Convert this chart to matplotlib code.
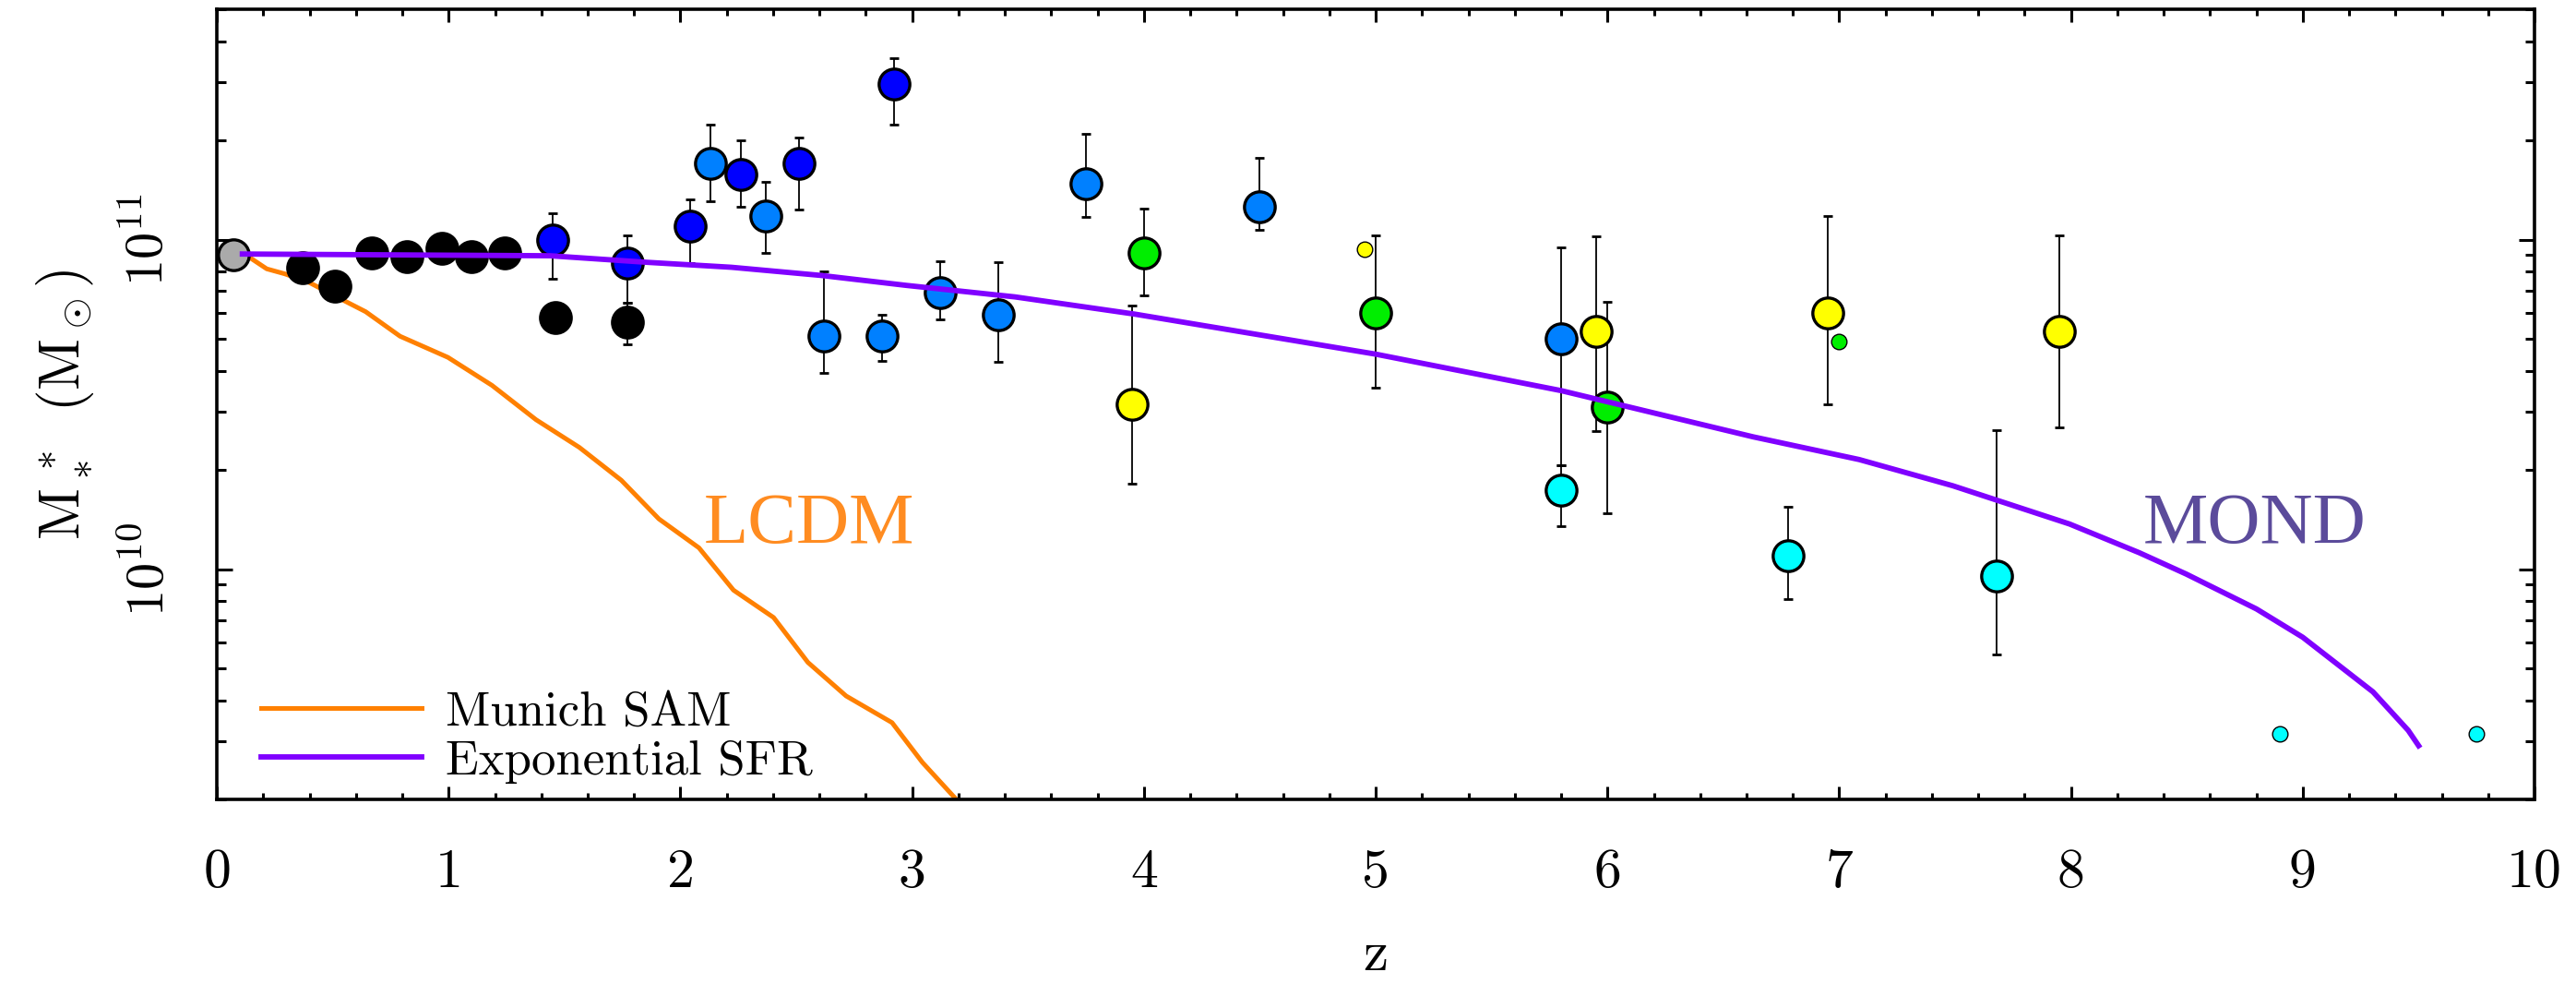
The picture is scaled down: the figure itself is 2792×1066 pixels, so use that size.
import numpy as np
import matplotlib
matplotlib.use("Agg")
import matplotlib.pyplot as plt

plt.rcParams['font.family'] = 'cmr10'
plt.rcParams['mathtext.fontset'] = 'cm'
plt.rcParams['axes.formatter.use_mathtext'] = True

# model curves
sam_z = [0.09, 0.126, 0.215, 0.293, 0.40, 0.517, 0.642, 0.79, 0.997, 1.187, 1.377, 1.564,
         1.745, 1.907, 2.08, 2.229, 2.402, 2.55, 2.715, 2.913, 3.044, 3.25]
sam_m = [9.0e10, 8.97e10, 8.15e10, 7.87e10, 7.4e10, 6.7e10, 6.04e10, 5.09e10, 4.39e10, 3.61e10,
         2.84e10, 2.34e10, 1.86e10, 1.42e10, 1.16e10, 8.63e9, 7.13e9, 5.21e9, 4.12e9, 3.42e9,
         2.59e9, 1.8e9]

sfr_z = [0.11, 1.438, 1.857, 2.22, 2.61, 2.975, 3.443, 3.96, 5.0, 5.8, 6.628, 7.086, 7.49,
         7.994, 8.296, 8.497, 8.80, 9.0, 9.303, 9.455, 9.5]
sfr_m = [9.04e10, 8.93e10, 8.53e10, 8.24e10, 7.78e10, 7.26e10, 6.70e10, 5.94e10, 4.49e10,
         3.48e10, 2.52e10, 2.15e10, 1.79e10, 1.37e10, 1.12e10, 9.66e9, 7.57e9, 6.21e9,
         4.24e9, 3.24e9, 2.91e9]

# observations: z, mass, lower and upper end of error bar (nan = none)
grey_z = [0.07]
grey_m = [9.0e10]

black_z = [0.37, 0.51, 0.67, 0.82, 0.97, 1.10, 1.24, 1.46, 1.77]
black_m = [8.2e10, 7.2e10, 9.1e10, 8.9e10, 9.4e10, 8.9e10, 9.1e10, 5.8e10, 5.6e10]
black_lo = [np.nan] * 8 + [4.8e10]
black_hi = [np.nan] * 8 + [6.45e10]

dblue_z = [1.45, 1.77, 2.04, 2.26, 2.51, 2.92]
dblue_m = [1.0e11, 8.5e10, 1.1e11, 1.58e11, 1.7e11, 2.97e11]
dblue_lo = [7.6e10, 6.45e10, 8.5e10, 1.26e11, 1.23e11, 2.24e11]
dblue_hi = [1.2e11, 1.03e11, 1.32e11, 2.0e11, 2.04e11, 3.56e11]

lblue_z = [2.13, 2.37, 2.62, 2.87, 3.12, 3.37, 3.75, 4.50, 5.80]
lblue_m = [1.7e11, 1.18e11, 5.1e10, 5.1e10, 6.9e10, 5.9e10, 1.48e11, 1.26e11, 5.0e10]
lblue_lo = [1.31e11, 9.1e10, 3.94e10, 4.29e10, 5.73e10, 4.26e10, 1.17e11, 1.07e11, 2.06e10]
lblue_hi = [2.24e11, 1.5e11, 8.0e10, 5.93e10, 8.57e10, 8.53e10, 2.09e11, 1.77e11, 9.46e10]

green_z = [4.0, 5.0, 6.0]
green_m = [9.1e10, 6.0e10, 3.1e10]
green_lo = [6.78e10, 3.55e10, 1.48e10]
green_hi = [1.24e11, 1.03e11, 6.47e10]

yellow_z = [3.95, 5.95, 6.95, 7.95]
yellow_m = [3.16e10, 5.25e10, 6.0e10, 5.27e10]
yellow_lo = [1.82e10, 2.63e10, 3.16e10, 2.69e10]
yellow_hi = [6.3e10, 1.02e11, 1.18e11, 1.03e11]

cyan_z = [5.80, 6.78, 7.68]
cyan_m = [1.74e10, 1.1e10, 9.5e9]
cyan_lo = [1.35e10, 8.1e9, 5.5e9]
cyan_hi = [2.06e10, 1.55e10, 2.64e10]

small_z = [4.95, 7.0, 8.9, 9.75]
small_m = [9.35e10, 4.9e10, 3.16e9, 3.16e9]
small_c = ['#ffff00', '#00ee00', '#00ffff', '#00ffff']

fig = plt.figure(figsize=(27.92, 10.66), dpi=100)
ax = fig.add_axes([0.0842, 0.1876, 0.9839 - 0.0842, 0.9906 - 0.1876])

ax.plot(sam_z, sam_m, color='#ff8000', lw=3.6, zorder=2, label='Munich SAM')
ax.plot(sfr_z, sfr_m, color='#8000ff', lw=4.2, zorder=5, label='Exponential SFR')

groups = [
    (black_z, black_m, black_lo, black_hi, 'black'),
    (dblue_z, dblue_m, dblue_lo, dblue_hi, '#0000ff'),
    (lblue_z, lblue_m, lblue_lo, lblue_hi, '#0080ff'),
    (green_z, green_m, green_lo, green_hi, '#00ee00'),
    (yellow_z, yellow_m, yellow_lo, yellow_hi, '#ffff00'),
    (cyan_z, cyan_m, cyan_lo, cyan_hi, '#00ffff'),
]
for z, m, lo, hi, col in groups:
    z, m, lo, hi = map(np.array, (z, m, lo, hi))
    ok = ~np.isnan(lo)
    if ok.any():
        err = [m[ok] - lo[ok], hi[ok] - m[ok]]
        ax.errorbar(z[ok], m[ok], yerr=err, fmt='none', ecolor='black',
                    elinewidth=1.3, capsize=3.3, capthick=2, zorder=3)
    ax.plot(z, m, 'o', ms=24, mfc=col, mec='black', mew=2.4, zorder=4)

ax.plot(grey_z, grey_m, 'o', ms=24, mfc='#aaaaaa', mec='black', mew=2.4, zorder=4)
for z, m, c in zip(small_z, small_m, small_c):
    ax.plot(z, m, 'o', ms=12, mfc=c, mec='black', mew=1.0, zorder=4)

ax.text(2.10, 1.205e10, 'LCDM', family='Liberation Serif', fontsize=57,
        color='#ff8c21', ha='left', va='baseline')
ax.text(8.31, 1.205e10, 'MOND', family='Liberation Serif', fontsize=57,
        color='#5b4b9b', ha='left', va='baseline')

ax.set_yscale('log')
ax.set_xlim(0, 10)
ax.set_ylim(2e9, 5e11)

ax.set_xticks(range(11))
ax.set_xticklabels([str(i) for i in range(11)], fontsize=43)
ax.set_xticks(np.arange(0, 10.01, 0.2), minor=True)
ax.set_yticks([1e10, 1e11])
ax.set_yticklabels([r'$10^{10}$', r'$10^{11}$'], fontsize=42, rotation=90, va='center')
ax.set_yticks([k * 10**e for e in (9, 10, 11) for k in range(2, 10)
               if 2e9 <= k * 10**e <= 5e11], minor=True)
ax.yaxis.set_minor_formatter(matplotlib.ticker.NullFormatter())

ax.tick_params(which='both', direction='in', top=True, right=True, width=2.2)
ax.tick_params(axis='x', which='major', length=10, pad=38)
ax.tick_params(axis='x', which='minor', length=5)
ax.tick_params(axis='y', which='major', length=12, pad=34)
ax.tick_params(axis='y', which='minor', length=7.5)
for s in ax.spines.values():
    s.set_linewidth(2.6)

ax.set_xlabel('z', fontsize=44)
ax.xaxis.set_label_coords(0.5, -0.165)
ax.set_ylabel(r'$\mathrm{M}_*^{\;*}\;\;(\mathrm{M}_\odot)$', fontsize=44)
ax.yaxis.set_label_coords(-0.052, 0.5)

ax.legend(loc='lower left', bbox_to_anchor=(0.019, 0.02), frameon=False,
          fontsize=38, handlelength=3.3, handletextpad=0.5, labelspacing=0.12,
          borderpad=0, borderaxespad=0)

fig.savefig('out.png', dpi=100)
